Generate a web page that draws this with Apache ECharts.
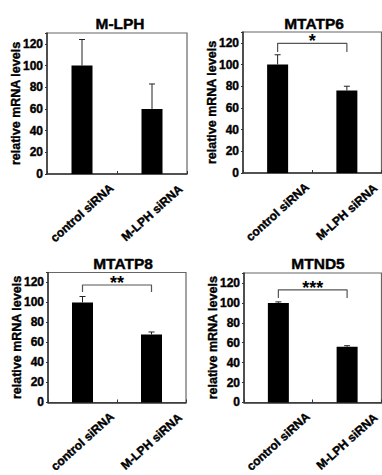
<!DOCTYPE html>
<html><head><meta charset="utf-8">
<script src="https://cdn.jsdelivr.net/npm/echarts@6/dist/echarts.min.js"></script>
<style>html,body{margin:0;padding:0;background:#fff}#c{width:382px;height:475px}</style>
</head><body><div id="c"></div>
<script>
const categories = ['control siRNA', 'M-LPH siRNA'];
const panelTitles = ['M-LPH', 'MTATP6', 'MTATP8', 'MTND5'];
const yTicks = [0, 20, 40, 60, 80, 100, 120];
const meanMLPH = [100, 60];
const meanATP6 = [100, 76];
const meanATP8 = [100, 68];
const meanND5 = [100, 56];
const errMLPH = [24, 23];
const errATP6 = [9, 4];
const errATP8 = [6, 2.5];
const errND5 = [1, 1];
// significance bracket: [top level, drop level], star label
const bracketATP6 = [119.5, 111.5];
const bracketATP8 = [117.5, 110.5];
const bracketND5 = [113, 105];
const starsList = [null, '*', '**', '***'];

const means = [meanMLPH, meanATP6, meanATP8, meanND5];
const errs = [errMLPH, errATP6, errATP8, errND5];
const brackets = [null, bracketATP6, bracketATP8, bracketND5];

const FONT = '"Liberation Sans", Arial, sans-serif';
const grids = [
  {left: 47, top: 33, width: 140, height: 141},
  {left: 243, top: 32, width: 139, height: 141},
  {left: 48, top: 272.5, width: 138, height: 140},
  {left: 244, top: 273, width: 139, height: 139}
];
const titlePos = [{x: 120, y: 15}, {x: 314, y: 15}, {x: 123, y: 255}, {x: 318, y: 255}];
const heavy = {textBorderColor: '#000', textBorderWidth: 0.4};

const option = {
  animation: false,
  backgroundColor: '#fff',
  title: panelTitles.map((t, i) => ({
    text: t, left: titlePos[i].x, top: titlePos[i].y, textAlign: 'center', padding: 0,
    textStyle: Object.assign({fontFamily: FONT, fontWeight: 'bold', fontSize: 15.5, color: '#000'}, heavy)
  })),
  grid: grids.map(g => Object.assign({show: true, borderColor: '#666', borderWidth: 1.2, backgroundColor: 'transparent'}, g)),
  xAxis: grids.map((g, i) => ({
    type: 'category', gridIndex: i, data: categories,
    axisLine: {lineStyle: {color: '#333', width: 1.5}},
    axisTick: {show: true, inside: true, length: 3, lineStyle: {color: '#333'}},
    axisLabel: Object.assign({interval: 0, rotate: 42, align: 'center', verticalAlign: 'middle', margin: 39,
      fontFamily: FONT, fontWeight: 'bold', fontSize: 12, color: '#000'}, heavy)
  })),
  yAxis: grids.map((g, i) => ({
    type: 'value', gridIndex: i, min: 0, max: 130, interval: 20,
    name: 'relative mRNA levels', nameLocation: 'middle', nameGap: 25, nameMoveOverlap: false,
    nameTextStyle: Object.assign({fontFamily: FONT, fontWeight: 'bold', fontSize: 12.5, color: '#000'}, heavy),
    axisLine: {show: true, lineStyle: {color: '#333', width: 1.5}},
    axisTick: {show: true, length: 2, lineStyle: {color: '#333'}},
    splitLine: {show: false},
    axisLabel: Object.assign({margin: 4, fontFamily: FONT, fontWeight: 'bold', fontSize: 12, color: '#000',
      formatter: v => (yTicks.indexOf(v) >= 0 ? String(v) : '')}, heavy)
  })),
  series: []
};

means.forEach((m, i) => {
  option.series.push({
    type: 'bar', xAxisIndex: i, yAxisIndex: i, data: m, barWidth: 21,
    itemStyle: {color: '#000'}, z: 2
  });
  option.series.push({
    type: 'custom', xAxisIndex: i, yAxisIndex: i, z: 3,
    data: m.map((v, k) => [k, v, v + errs[i][k]]),
    renderItem: (params, api) => {
      const b = api.coord([api.value(0), api.value(1)]);
      const t = api.coord([api.value(0), api.value(2)]);
      return {type: 'group', children: [
        {type: 'line', shape: {x1: b[0], y1: b[1], x2: t[0], y2: t[1]}, style: {stroke: '#222', lineWidth: 1}},
        {type: 'line', shape: {x1: t[0] - 3, y1: t[1], x2: t[0] + 3, y2: t[1]}, style: {stroke: '#222', lineWidth: 1}}
      ]};
    }
  });
  if (brackets[i]) {
    const br = brackets[i];
    const star = starsList[i];
    option.series.push({
      type: 'custom', xAxisIndex: i, yAxisIndex: i, z: 4,
      data: [[0, 1, br[0], br[1]]],
      renderItem: (params, api) => {
        const a0 = api.coord([api.value(0), api.value(3)]);
        const a1 = api.coord([api.value(0), api.value(2)]);
        const b1 = api.coord([api.value(1), api.value(2)]);
        const b0 = api.coord([api.value(1), api.value(3)]);
        return {type: 'group', children: [
          {type: 'polyline', shape: {points: [a0, a1, b1, b0], smooth: 0}, style: {stroke: '#555', lineWidth: 1.2, fill: 'none', lineJoin: 'round'}},
          {type: 'text', x: (a1[0] + b1[0]) / 2, y: a1[1] - 2,
            style: {text: star, fontFamily: FONT, fontWeight: 'bold', fontSize: 18, fill: '#000', align: 'center', verticalAlign: 'middle'}}
        ]};
      }
    });
  }
});

const chart = echarts.init(document.getElementById('c'), null, {renderer: 'svg'});
chart.setOption(option);
</script>
</body></html>
